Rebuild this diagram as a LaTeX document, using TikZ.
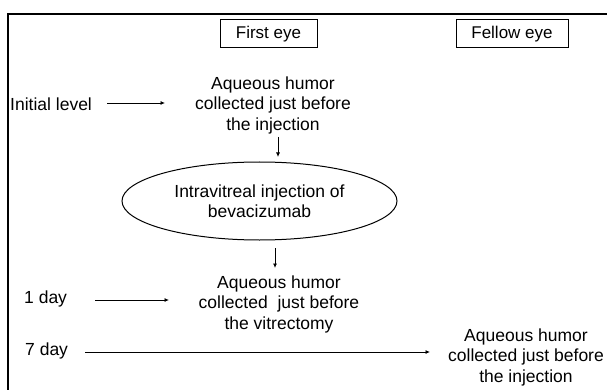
\documentclass[tikz,border=0pt]{standalone}
\usepackage{fontspec}
\setmainfont{Liberation Sans}
\usetikzlibrary{shapes.geometric,arrows.meta}
\begin{document}
\begin{tikzpicture}[x=1pt,y=-1pt,
  txt/.style={align=center,font=\fontsize{17.5}{20.5}\selectfont,inner sep=0pt},
  lbl/.style={font=\fontsize{17.5}{20.5}\selectfont,inner sep=0pt},
  hdr/.style={draw,line width=1pt,font=\fontsize{17}{20}\selectfont,minimum height=28pt,inner xsep=4pt},
  arr/.style={line width=0.8pt,-{Latex[length=4.5pt,width=4pt]}}]
\useasboundingbox (0,0) rectangle (607,390);
\draw[line width=1.5pt] (8,390) -- (8,14) -- (607,14);
\node[hdr,minimum width=97pt] (first) at (268.5,34) {First eye};
\node[hdr,minimum width=112pt] (fellow) at (512,34) {Fellow eye};
\node[lbl,anchor=west] (init) at (10,104) {Initial level};
\node[txt] (aq1) at (273,105) {Aqueous humor\\collected just before\\the injection};
\node[draw,ellipse,line width=1pt,minimum width=275pt,minimum height=78pt,txt] (inj) at (259.5,201) {Intravitreal injection of\\bevacizumab};
\node[txt] (aq2) at (279,304) {Aqueous humor\\collected\ \ just before\\the vitrectomy};
\node[lbl,anchor=west] (d1) at (24,299) {1 day};
\node[lbl,anchor=west] (d7) at (25,351) {7 day};
\node[txt] (aq3) at (526,357) {Aqueous humor\\collected just before\\the injection};
\coordinate (a1s) at (107,103);
\coordinate (a1e) at (165,103);
\draw[arr] (a1s) -- (a1e);
\draw[arr] (278,137) -- (278,157);
\draw[arr] (275,248) -- (275,268);
\coordinate (a2s) at (95,300);
\coordinate (a2e) at (169,300);
\draw[arr] (a2s) -- (a2e);
\coordinate (a3s) at (85,352);
\coordinate (a3e) at (430,352);
\draw[arr] (a3s) -- (a3e);
\end{tikzpicture}
\end{document}
